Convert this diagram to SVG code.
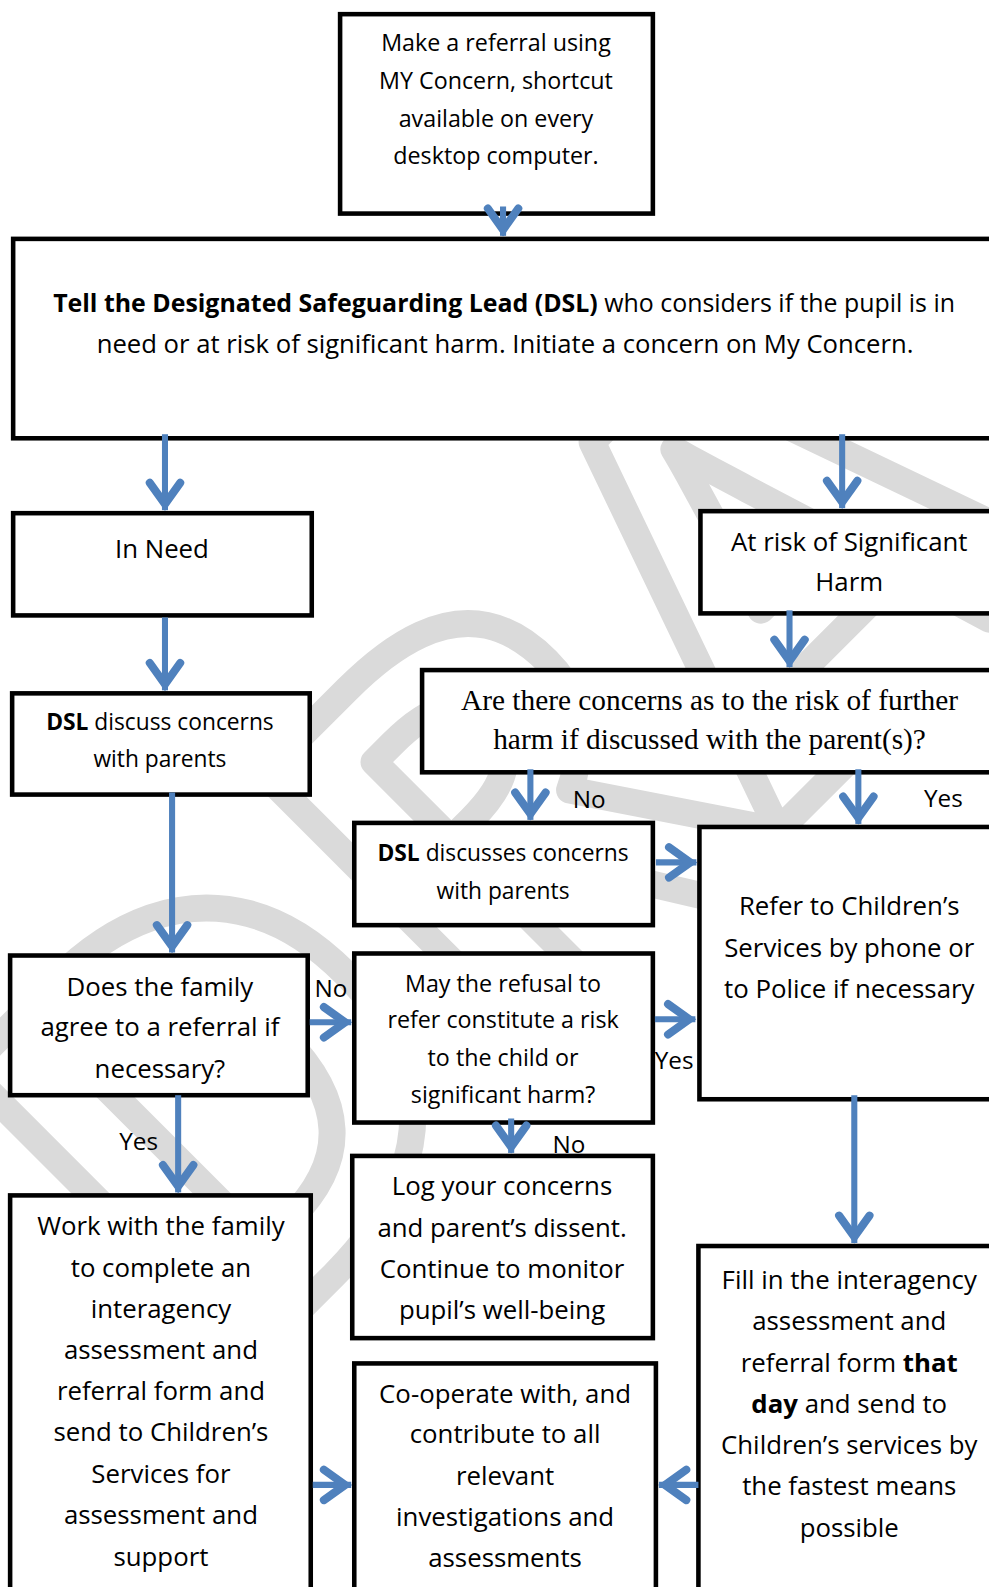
<svg xmlns="http://www.w3.org/2000/svg" width="989" height="1587" viewBox="0 0 989 1587">
<defs>
<style>
.bx{fill:#fff;stroke:#000;stroke-width:4.5}
.t{font-family:"Open Sans","Liberation Sans",sans-serif;font-size:25.5px;fill:#000;text-anchor:middle}
.s23{font-size:23px}
.s22{font-size:22.5px}
.serif{font-family:"Liberation Serif","Times New Roman",serif;font-size:29px}
.b{font-weight:bold}
.lbl{font-family:"Open Sans","Liberation Sans",sans-serif;font-size:24px;fill:#000;text-anchor:middle}
.ar{fill:none;stroke:#4f81bd;stroke-width:6;marker-end:url(#ah)}
.wm{font-family:"Open Sans","Liberation Sans",sans-serif;font-weight:bold;font-size:567px;fill:none;stroke:#dadada;stroke-width:27;stroke-linejoin:round}
</style>
<marker id="ah" markerUnits="userSpaceOnUse" orient="auto" refX="6" refY="0" markerWidth="60" markerHeight="60" viewBox="-30 -30 60 60" overflow="visible">
<path d="M-21,-15 L0,0 L-21,15" fill="none" stroke="#4f81bd" stroke-width="8" stroke-linecap="round" stroke-linejoin="miter"/>
</marker>
<clipPath id="wmclip"><rect x="0" y="238" width="989" height="1349"/></clipPath>
</defs>
<rect width="989" height="1587" fill="#fff"/>
<g id="watermark" clip-path="url(#wmclip)">
<text class="wm" x="217" y="1392" transform="rotate(-45 217 1392)">DRAFT</text>
</g>
<g id="diagram" transform="scale(1.0122)">
<g id="n1"><rect class="bx" x="336" y="14" width="309" height="197"/>
<text class="t s23" x="490" y="50">Make a referral using</text>
<text class="t s23" x="490" y="88">MY Concern, shortcut</text>
<text class="t s23" x="490" y="125">available on every</text>
<text class="t s23" x="490" y="162">desktop computer.</text></g>
<g id="n2"><rect class="bx" x="13" y="236" width="990" height="197"/>
<text class="t" x="498" y="308" textLength="891" lengthAdjust="spacingAndGlyphs"><tspan class="b">Tell the Designated Safeguarding Lead (DSL)</tspan> who considers if the pupil is in</text>
<text class="t" x="499" y="349" textLength="807" lengthAdjust="spacingAndGlyphs">need or at risk of significant harm. Initiate a concern on My Concern.</text></g>
<g id="n3"><rect class="bx" x="13" y="507" width="295" height="101"/>
<text class="t" x="160" y="551">In Need</text></g>
<g id="n4"><rect class="bx" x="692" y="505" width="310" height="101"/>
<text class="t" x="839" y="544">At risk of Significant</text>
<text class="t" x="839" y="584">Harm</text></g>
<g id="n5"><rect class="bx" x="12" y="685" width="294" height="100"/>
<text class="t s22" x="158" y="721"><tspan class="b">DSL</tspan> discuss concerns</text>
<text class="t s22" x="158" y="758">with parents</text></g>
<g id="n6"><rect class="bx" x="417" y="662" width="590" height="101"/>
<text class="t serif" x="701" y="701">Are there concerns as to the risk of further</text>
<text class="t serif" x="701" y="740">harm if discussed with the parent(s)?</text></g>
<g id="n7"><rect class="bx" x="350" y="813" width="295" height="101"/>
<text class="t s22" x="497" y="851"><tspan class="b">DSL</tspan> discusses concerns</text>
<text class="t s22" x="497" y="888">with parents</text></g>
<g id="n8"><rect class="bx" x="691" y="817" width="310" height="269"/>
<text class="t" x="839" y="904">Refer to Children’s</text>
<text class="t" x="839" y="945">Services by phone or</text>
<text class="t" x="839" y="986">to Police if necessary</text></g>
<g id="n9"><rect class="bx" x="10" y="944" width="294" height="138"/>
<text class="t" x="158" y="984">Does the family</text>
<text class="t" x="158" y="1024">agree to a referral if</text>
<text class="t" x="158" y="1065">necessary?</text></g>
<g id="n10"><rect class="bx" x="350" y="942" width="295" height="167"/>
<text class="t s23" x="497" y="980">May the refusal to</text>
<text class="t s23" x="497" y="1016">refer constitute a risk</text>
<text class="t s23" x="497" y="1053">to the child or</text>
<text class="t s23" x="497" y="1090">significant harm?</text></g>
<g id="n11"><rect class="bx" x="348" y="1142" width="297" height="180"/>
<text class="t" x="496" y="1181">Log your concerns</text>
<text class="t" x="496" y="1222">and parent’s dissent.</text>
<text class="t" x="496" y="1263">Continue to monitor</text>
<text class="t" x="496" y="1303">pupil’s well-being</text></g>
<g id="n12"><rect class="bx" x="10" y="1181" width="297" height="420"/>
<text class="t" x="159" y="1220">Work with the family</text>
<text class="t" x="159" y="1262">to complete an</text>
<text class="t" x="159" y="1302">interagency</text>
<text class="t" x="159" y="1343">assessment and</text>
<text class="t" x="159" y="1383">referral form and</text>
<text class="t" x="159" y="1424">send to Children’s</text>
<text class="t" x="159" y="1465">Services for</text>
<text class="t" x="159" y="1506">assessment and</text>
<text class="t" x="159" y="1547">support</text></g>
<g id="n13"><rect class="bx" x="350" y="1347" width="298" height="260"/>
<text class="t" x="499" y="1386">Co-operate with, and</text>
<text class="t" x="499" y="1426">contribute to all</text>
<text class="t" x="499" y="1467">relevant</text>
<text class="t" x="499" y="1508">investigations and</text>
<text class="t" x="499" y="1548">assessments</text></g>
<g id="n14"><rect class="bx" x="690" y="1231" width="310" height="370"/>
<text class="t" x="839" y="1273">Fill in the interagency</text>
<text class="t" x="839" y="1314">assessment and</text>
<text class="t" x="839" y="1355">referral form <tspan class="b">that</tspan></text>
<text class="t" x="839" y="1396"><tspan class="b">day</tspan> and send to</text>
<text class="t" x="839" y="1436">Children’s services by</text>
<text class="t" x="839" y="1477">the fastest means</text>
<text class="t" x="839" y="1518">possible</text></g>
<g id="connectors">
<path class="ar" d="M497,204 V233"/>
<path class="ar" d="M163,429 V504"/>
<path class="ar" d="M832,429 V502"/>
<path class="ar" d="M163,610 V682"/>
<path class="ar" d="M780,603 V659"/>
<path class="ar" d="M524,760 V810"/>
<path class="ar" d="M848,760 V814"/>
<path class="ar" d="M170,783 V941"/>
<path class="ar" d="M648,852 H688"/>
<path class="ar" d="M306,1010 H347"/>
<path class="ar" d="M647,1007 H687"/>
<path class="ar" d="M505,1105 V1139"/>
<path class="ar" d="M176,1082 V1178"/>
<path class="ar" d="M844,1082 V1228"/>
<path class="ar" d="M309,1467 H347"/>
<path class="ar" d="M690,1467 H651"/>
<text class="lbl" x="582" y="798">No</text>
<text class="lbl" x="932" y="797">Yes</text>
<text class="lbl" x="327" y="985">No</text>
<text class="lbl" x="666" y="1056">Yes</text>
<text class="lbl" x="562" y="1139">No</text>
<text class="lbl" x="137" y="1136">Yes</text>
</g>
</g>
</svg>
